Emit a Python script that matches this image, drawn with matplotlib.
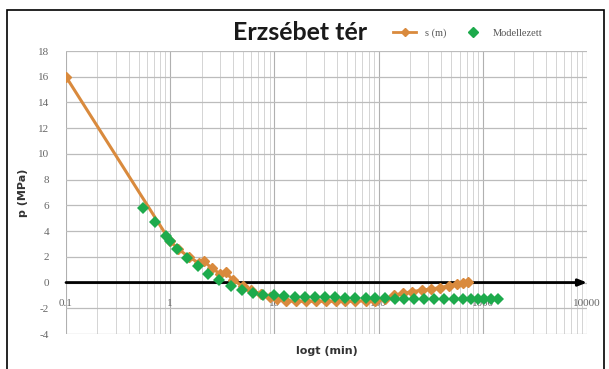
import numpy as np
import matplotlib
matplotlib.use("Agg")
import matplotlib.pyplot as plt
from matplotlib.patches import Rectangle
from matplotlib.lines import Line2D

# measured series s (m): time in min, pressure in MPa
t_meas = [0.1, 1.0, 1.2, 1.5, 1.9, 2.1, 2.5, 3.0, 3.4, 4.0, 5.0, 6.0, 7.5, 9.0,
          10.5, 13, 16, 20, 25, 31, 39, 48, 60, 75, 93, 115, 140, 170, 210,
          260, 320, 390, 470, 560, 650, 720]
p_meas = [16.0, 3.2, 2.6, 2.0, 1.5, 1.7, 1.1, 0.7, 0.8, 0.2, -0.3, -0.6, -0.9, -1.1,
          -1.3, -1.4, -1.45, -1.45, -1.45, -1.45, -1.45, -1.45, -1.45, -1.4, -1.4,
          -1.25, -1.0, -0.85, -0.7, -0.6, -0.5, -0.4, -0.25, -0.1, 0.0, 0.05]

# modelled series
t_model = [0.55, 0.72, 0.92, 1.0, 1.15, 1.46, 1.86, 2.3, 2.95, 3.8, 4.9, 6.3,
           7.8, 10.0, 12.5, 15.6, 19.5, 24.5, 30.6, 38, 48, 60, 75, 93, 116,
           145, 174, 217, 271, 337, 420, 525, 643, 765, 890, 1020, 1190, 1390]
p_model = [5.8, 4.7, 3.6, 3.2, 2.6, 1.9, 1.3, 0.7, 0.2, -0.3, -0.6, -0.8,
           -0.95, -1.0, -1.05, -1.1, -1.1, -1.15, -1.15, -1.15, -1.2, -1.2, -1.2,
           -1.2, -1.2, -1.25, -1.25, -1.25, -1.25, -1.3, -1.3, -1.3, -1.3, -1.3,
           -1.3, -1.3, -1.3, -1.3]

x_ticks = [0.1, 1, 10, 100, 1000, 10000]
x_labels = ["0.1", "1", "10", "100", "1000", "10000"]
y_ticks = list(range(-4, 19, 2))

orange = "#d98a3d"
green = "#1daa4c"

fig = plt.figure(figsize=(6.09, 3.69), dpi=100)
ax = fig.add_axes([66 / 609, 1 - 334 / 369, (587 - 66) / 609, (334 - 51) / 369])

ax.set_xscale("log")
ax.set_xlim(0.1, 10000)
ax.set_ylim(-4, 18)

# grid
ax.set_xticks(x_ticks)
ax.set_xticks([m * d for d in x_ticks[:-1] for m in range(2, 10)], minor=True)
ax.set_yticks(y_ticks)
ax.grid(True, which="major", axis="x", color="#b0b0b0", lw=0.8)
ax.grid(True, which="minor", axis="x", color="#d4d4d4", lw=0.7)
ax.grid(True, which="major", axis="y", color="#bcbcbc", lw=0.9)
for sp in ax.spines.values():
    sp.set_visible(False)
ax.tick_params(axis="both", which="both", length=0)
ax.set_xticklabels([])
ax.set_yticklabels([str(v) for v in y_ticks], color="#666666", fontsize=8,
                   family="Liberation Serif")
ax.tick_params(axis="y", pad=12)

# horizontal axis at p = 0 with arrow
ax.annotate("", xy=(10000, 0), xytext=(0.1, 0),
            arrowprops=dict(arrowstyle="-|>,head_length=0.5,head_width=0.2",
                            lw=2, color="black", shrinkA=0, shrinkB=0), zorder=3)
for xt, lab in zip(x_ticks, x_labels):
    ax.annotate(lab, xy=(xt, 0), xytext=(0, -15), textcoords="offset points",
                ha="center", va="center", fontsize=8, color="#666666",
                family="Liberation Serif")

ax.plot(t_meas, p_meas, color=orange, lw=2.2, marker="D", ms=5, zorder=4)
ax.plot(t_model, p_model, ls="none", color=green, marker="D", ms=6.5,
        markeredgewidth=0, zorder=5)

ax.set_xlabel("logt (min)", fontsize=8, fontweight="bold", color="#333333",
              labelpad=5)
ax.set_ylabel("p (MPa)", fontsize=8, fontweight="bold", color="#333333",
              labelpad=7)

fig.text(300 / 609, 1 - 32 / 369, "Erzsébet tér", ha="center", va="center",
         fontsize=18, fontweight="bold", family="Lato", color="#1a1a1a")

handles = [Line2D([], [], color=orange, lw=2, marker="D", ms=4),
           Line2D([], [], ls="none", color=green, marker="D", ms=5)]
fig.legend(handles, ["s (m)", "Modellezett"], loc="center",
           bbox_to_anchor=(468 / 609, 1 - 33 / 369), ncol=2, frameon=False,
           handlelength=2.2, columnspacing=1.5,
           prop={"family": "Liberation Serif", "size": 7.5})
for txt in fig.legends[0].get_texts():
    txt.set_color("#555555")

# outer frame
fig.patches.append(Rectangle((7 / 609, -0.02), (604 - 7) / 609, 1.02 - 10 / 369,
                             transform=fig.transFigure, fill=False,
                             edgecolor="black", lw=1.2))

fig.savefig("out.png", dpi=100)
